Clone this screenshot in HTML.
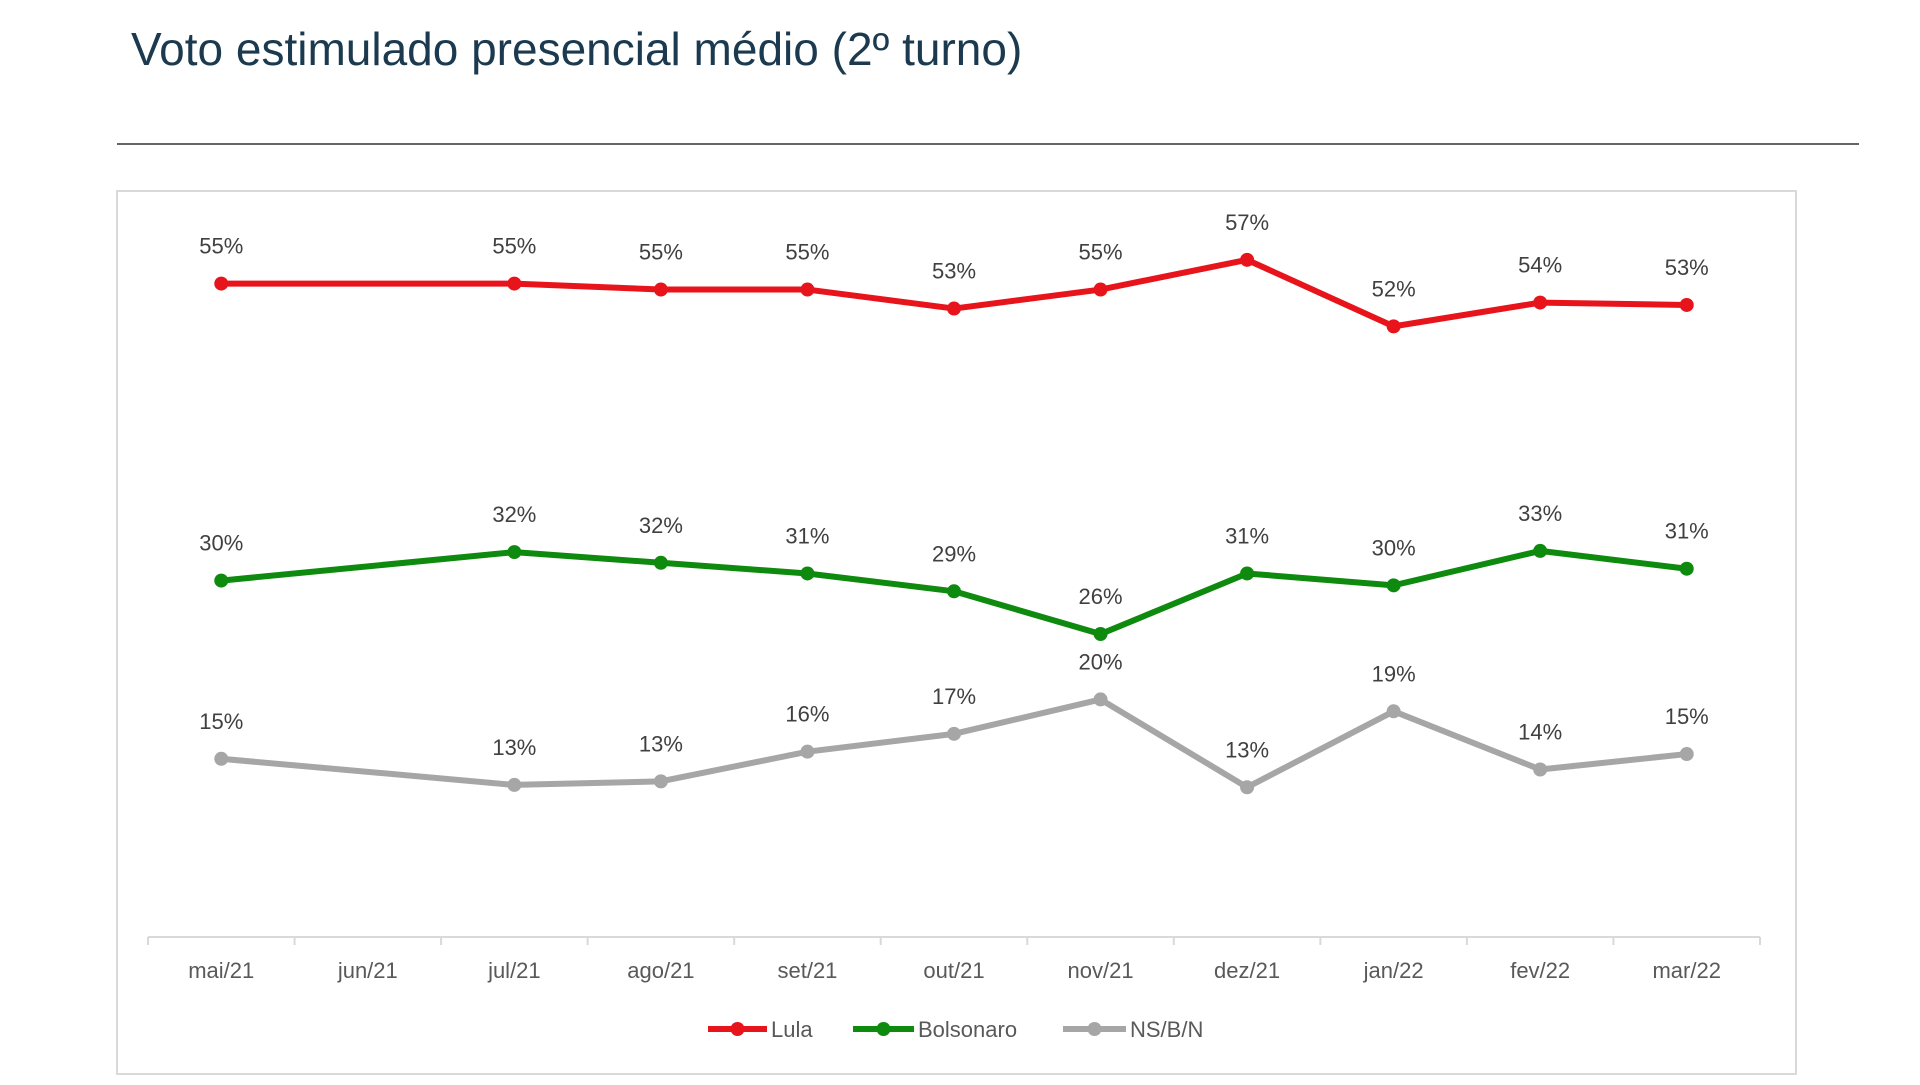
<!DOCTYPE html>
<html><head><meta charset="utf-8"><style>
body{margin:0;width:1920px;height:1080px;background:#fff;overflow:hidden;font-family:"Liberation Sans",sans-serif}
</style></head><body>
<svg width="1920" height="1080">
<text x="131" y="65" font-size="46" fill="#1c3a4f">Voto estimulado presencial médio (2º turno)</text>
<line x1="117" y1="144" x2="1859" y2="144" stroke="#333" stroke-width="1.5"/>
<rect x="117" y="191" width="1679" height="883" fill="none" stroke="#d9d9d9" stroke-width="2"/>
<g id="plot"></g>
</svg>
<script>
const categories=["mai/21","jun/21","jul/21","ago/21","set/21","out/21","nov/21","dez/21","jan/22","fev/22","mar/22"];
const lulaValues=[55.0,null,55.0,54.5,54.5,52.9,54.5,57.0,51.4,53.4,53.2];
const bolsoValues=[30.0,null,32.4,31.5,30.6,29.1,25.5,30.6,29.6,32.5,31.0];
const nsValues=[15.0,null,12.8,13.1,15.6,17.1,20.0,12.6,19.0,14.1,15.4];
const lulaLabels=["55%",null,"55%","55%","55%","53%","55%","57%","52%","54%","53%"];
const bolsoLabels=["30%",null,"32%","32%","31%","29%","26%","31%","30%","33%","31%"];
const nsLabels=["15%",null,"13%","13%","16%","17%","20%","13%","19%","14%","15%"];
const seriesNames=["Lula","Bolsonaro","NS/B/N"];
const NS="http://www.w3.org/2000/svg";
const g=document.getElementById('plot');
const x0=148,x1=1760,yBase=937,pxPerPt=11.88;
const band=(x1-x0)/categories.length;
const xs=i=>x0+band*(i+0.5);
const ys=v=>yBase-v*pxPerPt;
function mk(t,a){const e=document.createElementNS(NS,t);for(const k in a)e.setAttribute(k,a[k]);g.appendChild(e);return e;}
const axis=mk('line',{x1:x0,y1:yBase,x2:x1,y2:yBase,stroke:'#d9d9d9','stroke-width':2});


for(let i=0;i<=categories.length;i++){
 const t=mk('line',{x1:x0+band*i,y1:yBase,x2:x0+band*i,y2:yBase+8,stroke:'#d9d9d9','stroke-width':2});
 
 
}
categories.forEach((c,i)=>{
 const t=mk('text',{x:xs(i),y:978,'text-anchor':'middle','font-size':22,fill:'#595959'});
 t.textContent=c;
 
 
});
const series=[[lulaValues,lulaLabels,'#e8141c','lula'],[bolsoValues,bolsoLabels,'#0e8a0e','bolsonaro'],[nsValues,nsLabels,'#a6a6a6','ns-b-n']];
series.forEach(([vals,labs,col,nm])=>{
 const pts=[];vals.forEach((v,i)=>{if(v!=null)pts.push(xs(i)+','+ys(v));});
 const pl=mk('polyline',{points:pts.join(' '),fill:'none',stroke:col,'stroke-width':6,'stroke-linejoin':'round'});
 
 
 vals.forEach((v,i)=>{if(v==null)return;
  const c=mk('circle',{cx:xs(i),cy:ys(v),r:7,fill:col});
  
  
  const t=mk('text',{x:xs(i),y:ys(v)-30,'text-anchor':'middle','font-size':22,fill:'#404040'});
  t.textContent=labs[i];
  
  
 });
});
const leg=[[708,771],[853,918],[1063,1130]];
series.forEach(([v,l,col,nm],k)=>{
 const [lx,tx]=leg[k];
 const ln=mk('line',{x1:lx,y1:1029,x2:tx-4,y2:1029,stroke:col,'stroke-width':6});
 
 
 const c=mk('circle',{cx:(lx+tx-4)/2,cy:1029,r:7,fill:col});
 
 
 const t=mk('text',{x:tx,y:1037,'font-size':22,fill:'#595959'});
 t.textContent=seriesNames[k];
 
 
});
</script>
</body></html>
